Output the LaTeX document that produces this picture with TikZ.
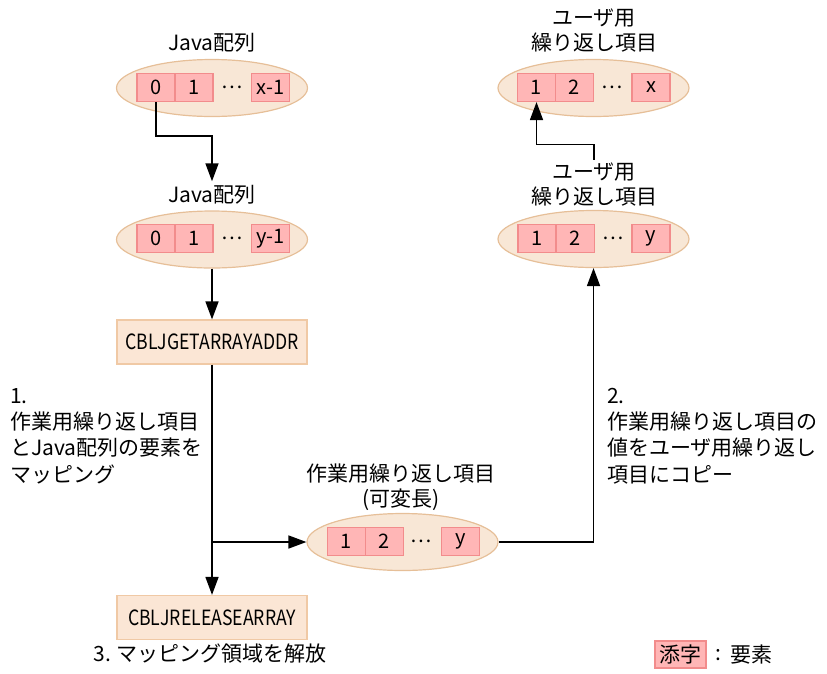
\documentclass[tikz,border=0pt]{standalone}
\usepackage{fontspec}
\setmainfont{Noto Sans CJK JP}
\newfontfamily\condfont[FakeStretch=0.84]{Noto Sans CJK JP}
\usetikzlibrary{shapes.geometric,arrows.meta,calc}
\definecolor{ellF}{HTML}{F8E7D6}
\definecolor{ellD}{HTML}{E6BF98}
\definecolor{cellF}{HTML}{FFB6B6}
\definecolor{cellD}{HTML}{F28C8C}
\definecolor{boxF}{HTML}{FBE6D5}
\definecolor{boxD}{HTML}{F0C9A5}
\tikzset{
  ell/.style={ellipse, draw=ellD, fill=ellF, line width=1.2pt, minimum width=191pt, minimum height=57pt, inner sep=0pt},
  cell/.style={draw=cellD, fill=cellF, line width=1.2pt, minimum width=38pt, minimum height=28pt, inner sep=0pt, font=\fontsize{20}{24}\selectfont},
  dots/.style={inner sep=0pt, font=\fontsize{20}{24}\selectfont},
  pbox/.style={draw=boxD, fill=boxF, line width=1.2pt, minimum width=190pt, minimum height=44pt, inner sep=0pt, font=\fontsize{21}{25}\condfont},
  lbl/.style={align=center, inner sep=0pt, font=\fontsize{21}{25}\selectfont},
  note/.style={align=left, inner sep=0pt, anchor=west, font=\fontsize{21}{26.3}\selectfont},
  conn/.style={line width=1.6pt, -{Triangle[length=18pt,width=13pt]}},
  plain/.style={line width=1.6pt}
}
\begin{document}
\begin{tikzpicture}[x=1pt,y=-1pt]
\useasboundingbox (0,0) rectangle (827,673);
% left column
\node[lbl] (jl1) at (212,43) {Java配列};
\node[ell] (e1) at (212,88) {};
\node[cell] (c10) at (156,87.5) {0};
\node[cell] (c11) at (194,87.5) {1};
\node[dots] (c1d) at (232,87.5) {…};
\node[cell] (c1x) at (270.5,87.5) {x-1};

\node[lbl] (jl2) at (212,195) {Java配列};
\node[ell] (e2) at (212,239.5) {};
\node[cell] (c20) at (156,238.5) {0};
\node[cell] (c21) at (194,238.5) {1};
\node[dots] (c2d) at (232,238.5) {…};
\node[cell] (c2y) at (270.5,238.5) {y-1};

\node[pbox] (get) at (212,342) {CBLJGETARRAYADDR};
\node[pbox] (rel) at (212,617.5) {CBLJRELEASEARRAY};
\node[lbl] (t3) at (210,654) {3.\ マッピング領域を解放};

% middle
\node[lbl] (ml) at (401,487.5) {作業用繰り返し項目\\(可変長)};
\node[ell] (em) at (402.5,542) {};
\node[cell] (m1) at (346.5,541.5) {1};
\node[cell] (m2) at (384.5,541.5) {2};
\node[dots] (md) at (421,541.5) {…};
\node[cell] (my) at (460.5,541.5) {y};

% right column
\node[lbl] (ul1) at (594,30.5) {ユーザ用\\繰り返し項目};
\node[ell] (r1) at (593.5,88) {};
\node[cell] (r11) at (536.5,87.5) {1};
\node[cell] (r12) at (574.5,87.5) {2};
\node[dots] (r1d) at (612.5,87.5) {…};
\node[cell] (r1x) at (651,87.5) {x};

\node[lbl] (ul2) at (594,184.5) {ユーザ用\\繰り返し項目};
\node[ell] (r2) at (593.5,239) {};
\node[cell] (r21) at (537,238.5) {1};
\node[cell] (r22) at (575.5,238.5) {2};
\node[dots] (r2d) at (613.5,238.5) {…};
\node[cell] (r2y) at (651,238.5) {y};

% notes
\node[note] (n1) at (10,436) {1.\\作業用繰り返し項目\\とJava配列の要素を\\マッピング};
\node[note] (n2) at (607,436) {2.\\作業用繰り返し項目の\\値をユーザ用繰り返し\\項目にコピー};

% legend
\node[cell, minimum width=51pt, minimum height=27pt, font=\fontsize{21}{25}\selectfont] (lg) at (680.5,654.5) {添字};
\node[lbl] (lgc) at (718,655) {:};
\node[lbl] (lgt) at (751,655) {要素};

% connectors
\coordinate (k1) at ($(c10.south)+(0,34)$);
\draw[conn] (c10.south) -- (k1) -| ($(jl2.north)+(0,-4)$);
\draw[conn] (e2.south) -- (get.north);
\draw[conn] (get.south) -- (rel.north);
\draw[conn] (get.south |- em.west) -- (em.west);
\draw[conn] (em.east) -| (r2.south);
\coordinate (k2) at ($(ul2.north)+(0,-18)$);
\draw[conn] ($(ul2.north)+(0,-3)$) -- (k2) -| (r11.south);
\end{tikzpicture}
\end{document}
